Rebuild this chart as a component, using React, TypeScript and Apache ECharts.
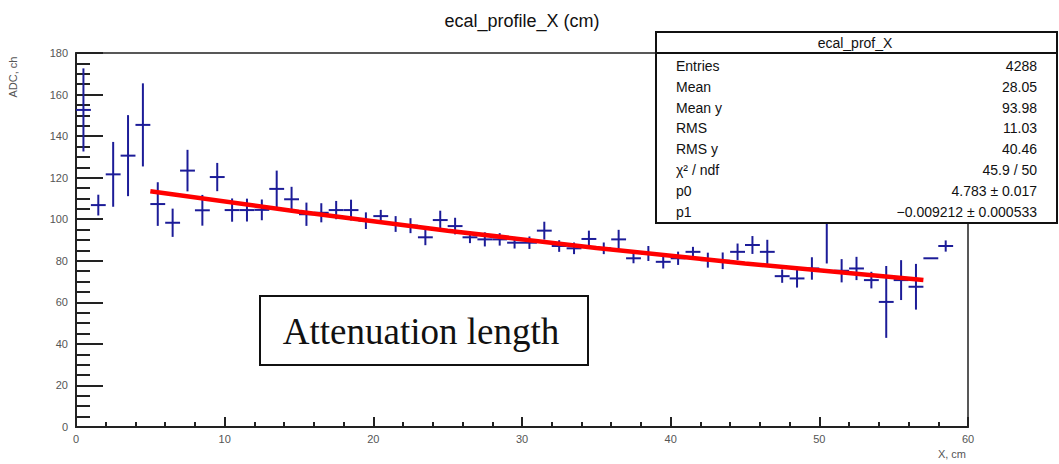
import React, { useEffect, useRef } from "react";
import * as echarts from "echarts";

// Bin centres (cm)
const binX = [
  0.5, 1.5, 2.5, 3.5, 4.5, 5.5, 6.5, 7.5, 8.5, 9.5,
  10.5, 11.5, 12.5, 13.5, 14.5, 15.5, 16.5, 17.5, 18.5, 19.5,
  20.5, 21.5, 22.5, 23.5, 24.5, 25.5, 26.5, 27.5, 28.5, 29.5,
  30.5, 31.5, 32.5, 33.5, 34.5, 35.5, 36.5, 37.5, 38.5, 39.5,
  40.5, 41.5, 42.5, 43.5, 44.5, 45.5, 46.5, 47.5, 48.5, 49.5,
  50.5, 51.5, 52.5, 53.5, 54.5, 55.5, 56.5, 57.5, 58.5,
];
// Profile mean ADC per bin
const binY = [
  152.6, 106.8, 121.6, 130.6, 145.4, 107.3, 98.3, 123.4, 104.3, 120.3,
  104.4, 104.4, 104.5, 114.6, 109.6, 102.4, 103.1, 104.4, 104.4, 99.3,
  101.5, 97.7, 96.9, 91.3, 99.6, 96.7, 91.3, 90.3, 90.3, 88.7,
  88.7, 94.5, 87.1, 86.0, 90.5, 86.0, 90.3, 81.2, 83.5, 79.5,
  81.2, 84.3, 80.3, 80.0, 84.3, 87.6, 84.3, 72.6, 71.5, 76.3,
  100.0, 75.2, 76.3, 70.7, 60.2, 70.7, 67.5, 81.2, 87.1,
];
// Error on mean per bin
const binErr = [
  20.0, 5.0, 15.6, 19.5, 20.0, 10.5, 6.8, 10.0, 7.4, 6.8,
  5.6, 5.5, 5.0, 8.8, 6.0, 5.6, 4.6, 4.4, 5.0, 4.0,
  3.0, 3.8, 3.6, 3.8, 4.5, 4.0, 2.8, 3.4, 3.0, 2.8,
  3.0, 4.3, 2.8, 2.8, 4.0, 2.8, 4.6, 2.4, 3.6, 3.2,
  3.2, 2.4, 3.6, 4.0, 4.0, 4.3, 5.8, 3.2, 4.4, 5.4,
  21.3, 5.6, 5.6, 4.0, 17.3, 9.6, 11.0, 0.0, 2.7,
];
// Fit curve points
const fitX = [5, 15, 25, 35, 45, 57];
const fitY = [113.5, 103.6, 94.5, 86.2, 78.7, 70.7];

const xTicks = [0, 10, 20, 30, 40, 50, 60];
const yTicks = [0, 20, 40, 60, 80, 100, 120, 140, 160, 180];

const statsTitle = "ecal_prof_X";
const statsLabels = ["Entries", "Mean", "Mean y", "RMS", "RMS y", "χ² / ndf", "p0", "p1"];
const statsValues = ["4288", "28.05", "93.98", "11.03", "40.46", "45.9 / 50", "4.783 ± 0.017", "−0.009212 ± 0.000533"];

const chartTitle = "ecal_profile_X (cm)";
const xName = "X, cm";
const yName = "ADC, ch";
const noteText = "Attenuation length";

export default function App() {
  const ref = useRef<HTMLDivElement>(null);
  useEffect(() => {
    if (!ref.current) return;
    const chart = echarts.init(ref.current, null, { renderer: "svg" });
    const sans = "Liberation Sans, Arial, sans-serif";
    const blue = "#1c1c98";
    const pts = binX.map((x, i) => [x, binY[i], binErr[i]]);
    const Z = 100;

    const statsChildren: any[] = [
      {
        type: "rect",
        z: Z,
        shape: { x: 656, y: 32, width: 401, height: 191 },
        style: { fill: "#fff", stroke: "#111", lineWidth: 2 },
      },
      {
        type: "line",
        z: Z + 1,
        shape: { x1: 656, y1: 53, x2: 1057, y2: 53 },
        style: { stroke: "#111", lineWidth: 2 },
      },
      {
        type: "text",
        z: Z + 1,
        x: 855,
        y: 43,
        style: { text: statsTitle, font: `14px ${sans}`, fill: "#111", textAlign: "center", textVerticalAlign: "middle" },
      },
    ];
    statsLabels.forEach((lab, i) => {
      const y = 66 + i * 20.8;
      statsChildren.push({
        type: "text",
        z: Z + 1,
        x: 676,
        y,
        style: { text: lab, font: `14px ${sans}`, fill: "#111", textAlign: "left", textVerticalAlign: "middle" },
      });
      statsChildren.push({
        type: "text",
        z: Z + 1,
        x: 1037,
        y,
        style: { text: statsValues[i], font: `14px ${sans}`, fill: "#111", textAlign: "right", textVerticalAlign: "middle" },
      });
    });

    chart.setOption({
      animation: false,
      backgroundColor: "#fff",
      grid: {
        left: 76,
        right: 91,
        top: 53,
        bottom: 37,
        show: true,
        borderColor: "#222",
        borderWidth: 1.5,
        backgroundColor: "transparent",
      },
      xAxis: {
        type: "value",
        min: xTicks[0],
        max: xTicks[xTicks.length - 1],
        interval: 10,
        axisLine: { show: true, onZero: false, lineStyle: { color: "#222", width: 2 } },
        axisTick: { show: true, inside: true, length: 10, lineStyle: { color: "#222", width: 2 } },
        minorTick: { show: true, splitNumber: 5, length: 5, lineStyle: { color: "#222", width: 2 } },
        splitLine: { show: false },
        axisLabel: { color: "#555", fontSize: 11, fontFamily: sans, margin: 6 },
      },
      yAxis: {
        type: "value",
        min: yTicks[0],
        max: yTicks[yTicks.length - 1],
        interval: 20,
        axisLine: { show: true, onZero: false, lineStyle: { color: "#222", width: 2 } },
        axisTick: { show: true, inside: true, length: 27, lineStyle: { color: "#222", width: 2 } },
        minorTick: { show: true, splitNumber: 4, length: 14, lineStyle: { color: "#222", width: 2 } },
        splitLine: { show: false },
        axisLabel: { color: "#555", fontSize: 11, fontFamily: sans, margin: 8 },
      },
      series: [
        {
          type: "custom",
          name: "ecal_prof_X",
          z: 2,
          data: pts,
          renderItem: (params: any, api: any) => {
            const x = api.value(0);
            const y = api.value(1);
            const e = api.value(2);
            const l = api.coord([x - 0.5, y]);
            const r = api.coord([x + 0.5, y]);
            const t = api.coord([x, y + e]);
            const b = api.coord([x, y - e]);
            const children: any[] = [
              { type: "line", shape: { x1: l[0], y1: l[1], x2: r[0], y2: r[1] }, style: { stroke: blue, lineWidth: 2 } },
            ];
            if (e > 0) {
              children.push({ type: "line", shape: { x1: t[0], y1: t[1], x2: b[0], y2: b[1] }, style: { stroke: blue, lineWidth: 2 } });
            }
            return { type: "group", children };
          },
        },
        {
          type: "line",
          name: "fit",
          z: 3,
          data: fitX.map((x, i) => [x, fitY[i]]),
          symbol: "none",
          lineStyle: { color: "#ff0000", width: 4.5 },
        },
      ],
      graphic: [
        {
          type: "text",
          x: 522,
          y: 21,
          z: Z,
          style: { text: chartTitle, font: `18px ${sans}`, fill: "#111", textAlign: "center", textVerticalAlign: "middle" },
        },
        {
          type: "text",
          x: 13,
          y: 77,
          rotation: Math.PI / 2,
          z: Z,
          style: { text: yName, font: `11px ${sans}`, fill: "#555", textAlign: "center", textVerticalAlign: "middle" },
        },
        {
          type: "text",
          x: 966,
          y: 454,
          z: Z,
          style: { text: xName, font: `11px ${sans}`, fill: "#555", textAlign: "right", textVerticalAlign: "middle" },
        },
        {
          type: "rect",
          z: Z,
          shape: { x: 260, y: 296, width: 328, height: 69 },
          style: { fill: "#fff", stroke: "#111", lineWidth: 2 },
        },
        {
          type: "text",
          z: Z + 1,
          x: 421,
          y: 331,
          style: { text: noteText, font: `37px Liberation Serif, Times New Roman, serif`, fill: "#111", textAlign: "center", textVerticalAlign: "middle" },
        },
        ...statsChildren,
      ],
    });
    return () => chart.dispose();
  }, []);
  return <div ref={ref} style={{ position: "absolute", left: 0, top: 0, width: 1059, height: 464 }} />;
}
